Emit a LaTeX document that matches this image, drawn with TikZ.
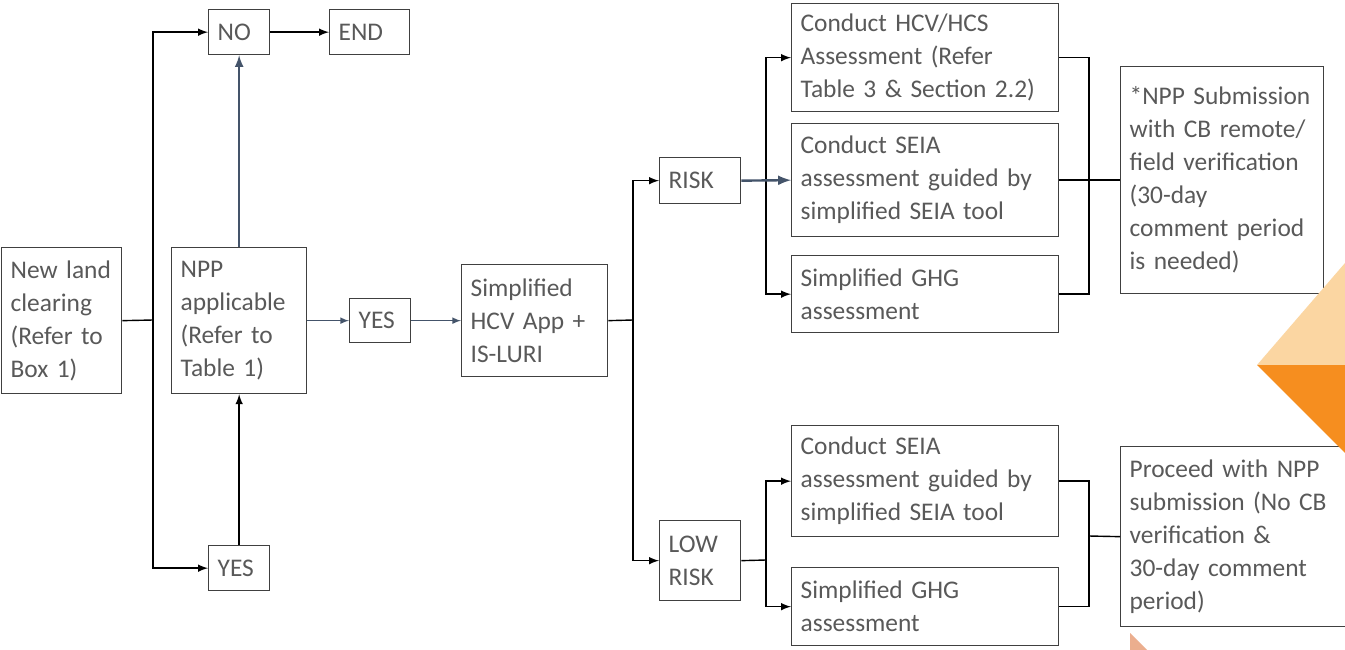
\documentclass[tikz,border=0pt]{standalone}
\usepackage{fontspec}
\setmainfont{Carlito}
\usepackage{xcolor}
\usetikzlibrary{arrows}
\hyphenpenalty=10000
\definecolor{txtcol}{HTML}{595959}
\definecolor{boxcol}{HTML}{404040}
\definecolor{slate}{HTML}{44546A}
\definecolor{orlight}{HTML}{FBD6A2}
\definecolor{ordark}{HTML}{F68E1F}
\definecolor{orsalmon}{HTML}{EBAE8E}
\tikzstyle{box}=[draw=boxcol, line width=0.65pt, text=txtcol, anchor=north west,
                 align=left, inner xsep=4.5pt, inner ysep=2pt,
                 font=\fontsize{12.7}{16.5}\selectfont]
\tikzset{>=latex}

\begin{document}
\begin{tikzpicture}[x=0.5pt, y=-0.5pt,
                    B/.style args = {#1/#2}{box,
                              minimum width=#1*0.5pt,
                              minimum height=#2*0.5pt,
                              text width=#1*0.5pt-9pt},
                    arr/.style = {->, line width=0.7pt, black},
                    lin/.style = {line width=0.7pt, black},
                    arrS/.style = {->, line width=#1, slate}
               ]
               \fill[white] (0,0) rectangle (1345,649);
               \clip (0,0) rectangle (1345,649);
               % left part
               \node[B={120/146}] (nland) at (1,247) {New land\\clearing\\(Refer to\\Box 1)};
               \node[B={135/146}] (npp)   at (171,247) {NPP\\applicable\\(Refer to\\Table 1)};
               \node[B={61/45}]   (no)    at (208,9)   {NO};
               \node[B={80/45}]   (end)   at (329,9)   {END};
               \node[B={61/45}]   (yesb)  at (208,545) {YES};
               \node[B={61/44}]   (yesm)  at (349,298) {YES};
               \node[B={146/112}] (shcv)  at (461,264) {Simplified\\HCV App +\\IS-LURI};
               % risk branches
               \node[B={81/46}]   (risk)  at (659,157) {RISK};
               \node[B={81/80}]   (lrisk) at (659,520) {LOW\\RISK};
               \node[B={267/108}] (hcv)   at (791,3)   {Conduct HCV/HCS\\Assessment (Refer\\Table 3 \& Section 2.2)};
               \node[B={267/113}] (seia)  at (791,123) {Conduct SEIA\\assessment guided by\\simplified SEIA tool};
               \node[B={267/77}]  (ghg)   at (791,255) {Simplified GHG\\assessment};
               \node[B={267/111}] (seial) at (791,425) {Conduct SEIA\\assessment guided by\\simplified SEIA tool};
               \node[B={267/78}]  (ghgl)  at (791,567) {Simplified GHG\\assessment};
               \node[B={203/227}] (sub)   at (1120,66) {*NPP Submission\\with CB remote/\\field verification\\(30-day\\comment period\\is needed)};
               \node[B={240/180}] (proc)  at (1120,446) {Proceed with NPP\\submission (No CB\\verification \&\\30-day comment\\period)};

               \coordinate (jA) at (153,320);
               \coordinate (jB) at (633,320);
               \coordinate (jC) at (766,180);
               \coordinate (jD) at (1089,180);
               \coordinate (jE) at (766,560);
               \coordinate (jF) at (1089,536);

               \draw[lin] (nland.east) -- (jA);
               \draw[arr] (jA) |- (no.west);
               \draw[arr] (jA) |- (yesb.west);
               \draw[arr] (yesb.north) -- (npp.south);
               \draw[arrS=1pt] (npp.north) -- (no.south);
               \draw[arr] (no.east) -- (end.west);
               \draw[arrS=0.5pt] (npp.east) -- (yesm.west);
               \draw[arrS=0.5pt] (yesm.east) -- (shcv.west);

               \draw[lin] (shcv.east) -- (jB);
               \draw[arr] (jB) |- (risk.west);
               \draw[arr] (jB) |- (lrisk.west);

               \draw[arr] (jC) |- (hcv.west);
               \draw[arr] (jC) |- (ghg.west);
               \draw[arrS=1.2pt] (risk.east) -- (seia.west);
               \draw[lin] (hcv.east) -| (jD) |- (ghg.east);
               \draw[lin] (seia.east) -- (sub.west);

               \draw[lin] (lrisk.east) -- (jE);
               \draw[arr] (jE) |- (seial.west);
               \draw[arr] (jE) |- (ghgl.west);
               \draw[lin] (seial.east) -| (jF) |- (ghgl.east);
               \draw[lin] (jF) -- (proc.west);

               % orange corner shapes
               \fill[orlight] (1257,365) -- (1345,263) -- (1345,365) -- cycle;
               \fill[ordark] (1257,365) -- (1345,365) -- (1345,453) -- cycle;
               \fill[orsalmon] (1130,633) -- (1147,650) -- (1130,650) -- cycle;
          \end{tikzpicture}
\end{document}
